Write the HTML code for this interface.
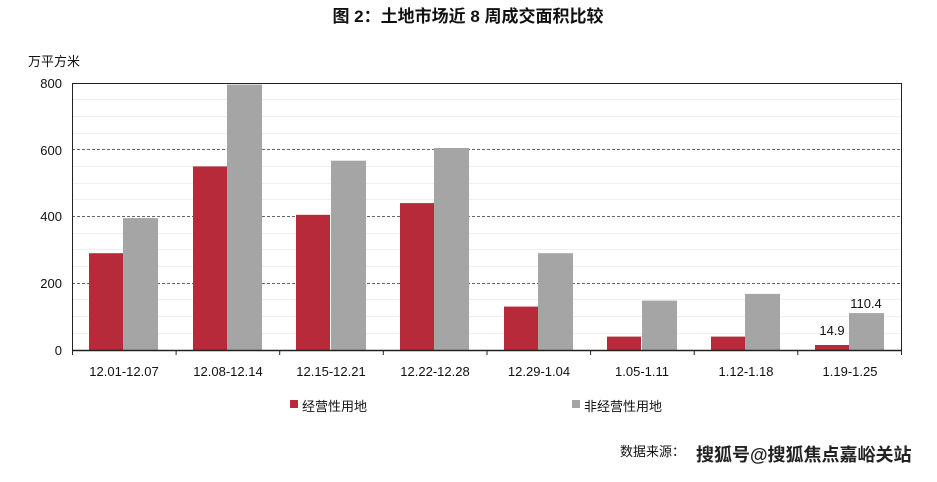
<!DOCTYPE html>
<html><head><meta charset="utf-8"><style>
body{margin:0;background:#fff;}
svg text{font-family:"Liberation Sans","Noto Sans CJK SC",sans-serif;}
</style></head><body>
<svg width="937" height="477" viewBox="0 0 937 477" xmlns="http://www.w3.org/2000/svg">
<text x="468" y="22" text-anchor="middle" font-size="17" font-weight="bold" fill="#111">图 2：土地市场近 8 周成交面积比较</text>
<text x="28" y="66" font-size="13" fill="#111">万平方米</text>
<g stroke="#f0f0f0" stroke-width="1">
<line x1="72" x2="901" y1="99.5" y2="99.5"/><line x1="72" x2="901" y1="116.5" y2="116.5"/><line x1="72" x2="901" y1="133.5" y2="133.5"/>
<line x1="72" x2="901" y1="166.5" y2="166.5"/><line x1="72" x2="901" y1="183.5" y2="183.5"/><line x1="72" x2="901" y1="199.5" y2="199.5"/>
<line x1="72" x2="901" y1="233.5" y2="233.5"/><line x1="72" x2="901" y1="249.5" y2="249.5"/><line x1="72" x2="901" y1="266.5" y2="266.5"/>
<line x1="72" x2="901" y1="299.5" y2="299.5"/><line x1="72" x2="901" y1="316.5" y2="316.5"/><line x1="72" x2="901" y1="333.5" y2="333.5"/>
</g>
<g stroke="#666" stroke-dasharray="3,2" stroke-width="1">
<line x1="72" x2="901" y1="149.5" y2="149.5"/><line x1="72" x2="901" y1="216.5" y2="216.5"/><line x1="72" x2="901" y1="283.5" y2="283.5"/>
</g>
<g fill="#b72a3a">
<rect x="89" y="253.2" width="34" height="96.8"/>
<rect x="193" y="166.4" width="34" height="183.6"/>
<rect x="296" y="214.8" width="34" height="135.2"/>
<rect x="400" y="203.1" width="34" height="146.9"/>
<rect x="504" y="306.6" width="34" height="43.4"/>
<rect x="607" y="336.6" width="34" height="13.4"/>
<rect x="711" y="336.6" width="34" height="13.4"/>
<rect x="815" y="345" width="34" height="5"/>
</g>
<g fill="#a5a5a5">
<rect x="123" y="218.1" width="35" height="131.9"/>
<rect x="227" y="84.6" width="35" height="265.4"/>
<rect x="331" y="160.7" width="35" height="189.3"/>
<rect x="434" y="148" width="35" height="202"/>
<rect x="538" y="253.2" width="35" height="96.8"/>
<rect x="642" y="300.6" width="35" height="49.4"/>
<rect x="745" y="293.9" width="35" height="56.1"/>
<rect x="849" y="313.1" width="35" height="36.9"/>
</g>
<path d="M72.5 83.5H901.5V350.5H72.5Z" fill="none" stroke="#222" stroke-width="1"/>
<g stroke="#222"><line x1="72" x2="902" y1="350.5" y2="350.5" stroke-width="1.5"/>
<line x1="72.5" x2="72.5" y1="350" y2="355"/><line x1="176.1" x2="176.1" y1="350" y2="355"/><line x1="279.7" x2="279.7" y1="350" y2="355"/><line x1="383.3" x2="383.3" y1="350" y2="355"/><line x1="487" x2="487" y1="350" y2="355"/><line x1="590.6" x2="590.6" y1="350" y2="355"/><line x1="694.2" x2="694.2" y1="350" y2="355"/><line x1="797.8" x2="797.8" y1="350" y2="355"/><line x1="901.5" x2="901.5" y1="350" y2="355"/></g>
<g font-size="13" fill="#111" text-anchor="end">
<text x="62" y="88">800</text><text x="62" y="155">600</text><text x="62" y="221">400</text><text x="62" y="288">200</text><text x="62" y="355">0</text>
</g>
<g font-size="13" fill="#111" text-anchor="middle">
<text x="124" y="376">12.01-12.07</text><text x="228" y="376">12.08-12.14</text><text x="331" y="376">12.15-12.21</text><text x="435" y="376">12.22-12.28</text><text x="539" y="376">12.29-1.04</text><text x="642" y="376">1.05-1.11</text><text x="746" y="376">1.12-1.18</text><text x="850" y="376">1.19-1.25</text>
<text x="832" y="335">14.9</text><text x="866" y="308">110.4</text>
</g>
<rect x="290" y="400" width="8" height="8" fill="#b72a3a"/>
<text x="302" y="411" font-size="13" fill="#111">经营性用地</text>
<rect x="572" y="400" width="8" height="8" fill="#a5a5a5"/>
<text x="584" y="411" font-size="13" fill="#111">非经营性用地</text>
<text x="620" y="456" font-size="13" fill="#111">数据来源：</text>
<text x="696" y="461" font-size="18" font-weight="bold" fill="#222">搜狐号@搜狐焦点嘉峪关站</text>
</svg>
</body></html>
